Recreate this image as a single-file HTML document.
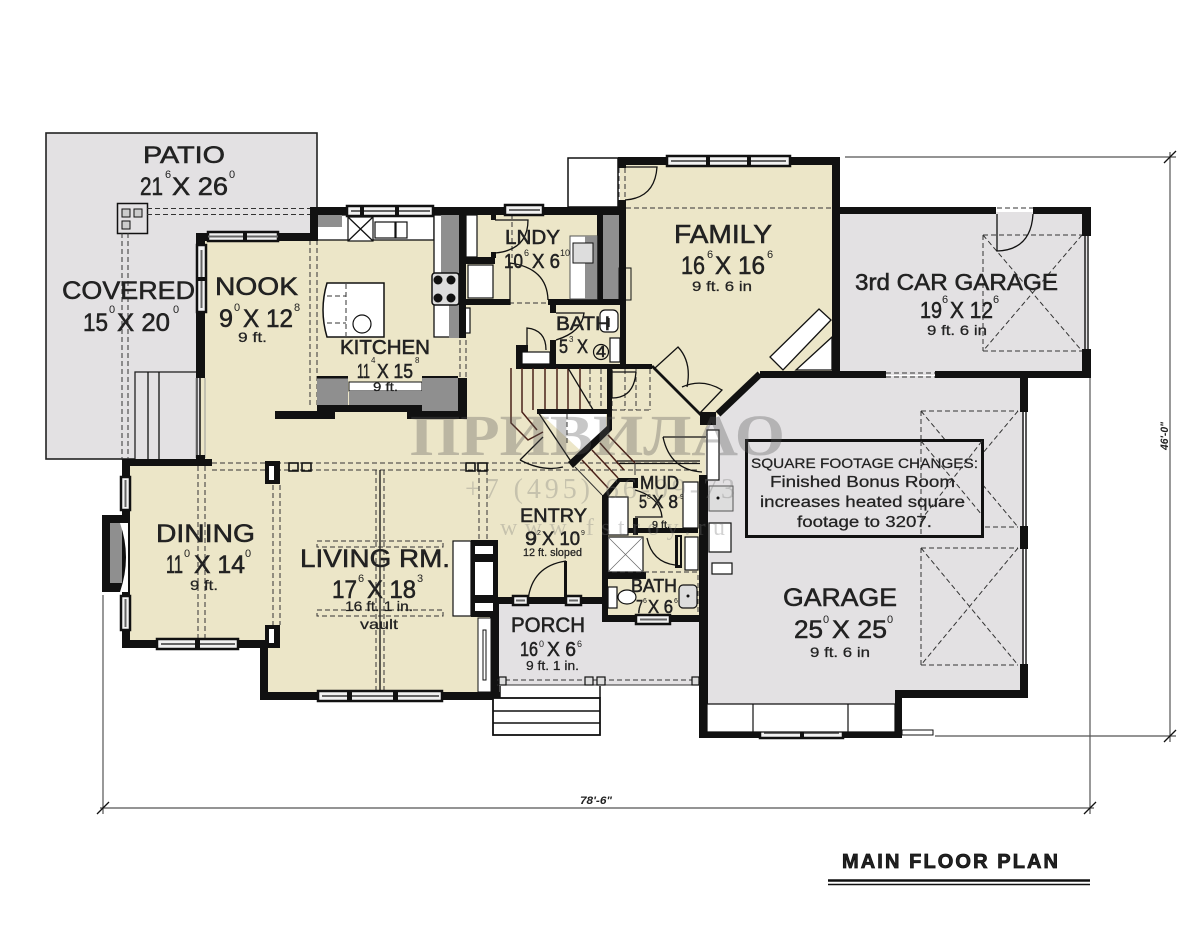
<!DOCTYPE html>
<html lang="en"><head><meta charset="utf-8"><title>Main Floor Plan</title>
<style>
html,body{margin:0;padding:0;background:#fff}
svg{display:block}
text{font-family:"Liberation Sans",sans-serif;fill:#222}
.m{stroke:#222;stroke-width:.55}
.s{stroke:#222;stroke-width:.25}
.d{fill:none;stroke:#333;stroke-width:1;stroke-dasharray:5 3}
.t{fill:none;stroke:#111;stroke-width:1.3}
.w{fill:#fff;stroke:#111;stroke-width:1.2}
.g{fill:#8f8f8f}
.win{fill:#f2f2f2;stroke:#111;stroke-width:2.5}
.r{stroke:#4a2018;stroke-width:1.5;fill:none}
.dim{stroke:#555;stroke-width:1.2;fill:none}
</style></head><body>
<svg xmlns="http://www.w3.org/2000/svg" width="1200" height="943" viewBox="0 0 1200 943">
<rect width="1200" height="943" fill="#fff"/>

<!-- dimensions -->
<path class="dim" d="M845 157H1176M1170 152V742M935 736H1176M1090 378V814M100 808H1094M103 595V814"/>
<path d="M1164 163l12-12M1164 742l12-12M97 814l12-12M1084 814l12-12" stroke="#111" stroke-width="1.3"/>
<text transform="translate(1168,450) rotate(-90)" font-size="11" font-weight="bold" font-style="italic" textLength="28" lengthAdjust="spacingAndGlyphs">46'-0"</text>
<text x="580" y="804" font-size="11" font-weight="bold" font-style="italic" textLength="32" lengthAdjust="spacingAndGlyphs">78'-6"</text>

<!-- patio -->
<rect x="46" y="133" width="271" height="326" fill="#e3e1e3" stroke="#222" stroke-width="1.6"/>
<rect x="135" y="372" width="62" height="88" fill="#e3e1e3" stroke="#222" stroke-width="1.3"/>
<path class="t" d="M148 372V460M159 372V460"/>
<rect x="117.500" y="203.500" width="30" height="30" fill="none" stroke="#111" stroke-width="1.5"/>
<rect x="122" y="209" width="8" height="8" fill="#ccc" stroke="#111"/><rect x="134" y="209" width="8" height="8" fill="#ccc" stroke="#111"/><rect x="122" y="221" width="8" height="8" fill="#ccc" stroke="#111"/>
<path class="d" d="M147 208.500H310M147 214.500H310M122 233V460M128 233V460"/>

<!-- floors -->
<path fill="#ece6c8" d="M200 238H436V212H620V162H836V372H760L708 425V620H605V601H497V695H265V645H126V463H200Z"/>
<path fill="#e3e1e3" d="M838 212H1087V375H838Z"/>
<path fill="#e3e1e3" d="M706 428L760 376H1024V694H899V734H703Z"/>
<path fill="#e3e1e3" d="M497 602H602V622H703V685H497Z"/>
<rect x="568" y="158" width="50" height="49" fill="#fff" stroke="#111" stroke-width="1.5"/>

<!-- dashes -->
<path class="d" d="M310 240V405M317 240V405M460 340V378M466 340V378M198 466V640M205 466V640M273 485V625M280 485V625M479 470V540M487 470V540M212 463H700M212 470H700M376 470V690M384 470V690M626 208H832M619 168V200M625 168V200M512 214V258M493 303H548"/>
<path class="t" d="M380 470V690M617 461H700M617 463.500H700"/>
<rect class="d" x="317" y="541" width="126" height="6"/><rect class="d" x="317" y="610" width="126" height="6"/>
<rect x="289" y="463" width="9" height="8" fill="none" stroke="#111" stroke-width="1.6"/><rect x="302" y="463" width="9" height="8" fill="none" stroke="#111" stroke-width="1.6"/>
<rect x="466" y="463" width="9" height="8" fill="none" stroke="#111" stroke-width="1.6"/><rect x="478" y="463" width="9" height="8" fill="none" stroke="#111" stroke-width="1.6"/>

<!-- kitchen -->
<rect x="317" y="215" width="117" height="25" fill="#fff" stroke="#111" stroke-width="1.3"/>
<rect x="317" y="215" width="25" height="12" class="g"/>
<rect x="434" y="215" width="25" height="122" fill="#fff" stroke="#111" stroke-width="1.3"/>
<rect x="441" y="215" width="18" height="58" class="g"/><rect x="449" y="305" width="10" height="33" class="g"/>
<rect class="w" x="348" y="217" width="25" height="24"/><path class="t" d="M348 217l25 24M373 217l-25 24" stroke-width=".7"/>
<rect class="w" x="375" y="222" width="20" height="16"/><rect class="w" x="396" y="222" width="11" height="16"/>
<rect x="432" y="273" width="27" height="32" rx="3" fill="#ddd" stroke="#111" stroke-width="1.5"/>
<circle cx="438" cy="280" r="4.500" fill="#111"/><circle cx="451" cy="280" r="4.500" fill="#111"/><circle cx="438" cy="298" r="4.500" fill="#111"/><circle cx="451" cy="298" r="4.500" fill="#111"/>
<rect class="w" x="463" y="308" width="7" height="25"/>
<path fill="#fff" stroke="#111" stroke-width="1.5" d="M327 283H384V337H327Q319 310 327 283Z"/>
<path class="d" d="M346 284V336M327 296H346M327 323H346"/><circle cx="362" cy="324" r="9" fill="#fff" stroke="#111" stroke-width="1.2"/>
<rect x="317" y="377" width="31" height="28" class="g"/><rect x="349" y="382" width="73" height="9" fill="#fff" stroke="#111"/><rect x="349" y="391" width="73" height="14" class="g"/><rect x="422" y="378" width="36" height="33" class="g"/>
<g fill="#111"><rect x="317" y="405" width="105" height="7"/><rect x="275" y="411" width="60" height="8"/><rect x="407" y="411" width="60" height="8"/><rect x="458" y="378" width="9" height="41"/><rect x="317" y="376" width="31" height="2.500"/><rect x="422" y="376" width="36" height="2"/></g>

<!-- laundry / bath -->
<rect class="w" x="466" y="215" width="11" height="42"/>
<rect class="w" x="468" y="265" width="25" height="33"/>
<path fill="#111" d="M466 257H495V264H466ZM459 214H466V338H459ZM466 299H510V305H466ZM548 299H626V305H548ZM597 214H603V300H597ZM618 158H626V168H618ZM618 200H626V300H618Z"/>
<rect x="570" y="236" width="27" height="63" fill="#fff" stroke="#555"/><rect x="585" y="236" width="12" height="63" class="g"/>
<rect x="573" y="243" width="20" height="20" fill="#ddd" stroke="#111"/>
<rect x="603" y="215" width="16" height="84" class="g"/><path d="M622 215V299" stroke="#111" stroke-dasharray="5 3" fill="none"/><rect x="619" y="268" width="12" height="32" fill="none" stroke="#111"/>
<path class="t" d="M495 220H528Q528 250 495 253M510 305V263Q547 268 548 300"/>
<rect x="491" y="214" width="5" height="6" fill="#111"/><rect x="491" y="252" width="5" height="6" fill="#111"/>
<rect x="600" y="310" width="18" height="22" rx="5" class="w"/><path class="t" d="M609 318V327"/>
<rect class="w" x="610" y="338" width="10" height="24"/>
<circle cx="601" cy="352" r="7.500" fill="none" stroke="#111" stroke-width="1.2"/>
<path fill="#111" d="M550 305H556V313H550ZM550 340H556V365H550ZM620 300H626V365H620ZM516 345H522V365H516ZM516 364H652V369H516ZM522 345H528V352H522Z"/>
<rect class="w" x="522" y="352" width="28" height="12"/>
<path class="t" d="M527 352V328Q546 330 546 350M556 313H584Q582 332 556 340"/>

<!-- stairs -->
<path class="r" d="M511 368V423L528 440L543 432M522 368V412L537 430M533 368V410M545 368V410M557 368V410M568 368V410M580 368V410"/>
<path class="t" d="M568 368L598 418" stroke-width=".9"/>
<path class="d" stroke-width=".8" d="M590 369V410M601 369V410M612 369V410M625 369V410M636 369V410M650 369V410M612 410H650"/>
<path fill="#fff" d="M541 414H606V428L582 452Z"/>
<path class="d" d="M567 414V445"/>
<path fill="#111" d="M537 409H612V414H537ZM607 369H612V430L573 468L568 462L607 426Z"/>
<path class="t" d="M538 412L572 463"/>
<path fill="none" stroke="#333" d="M608 435L635 463V475M575 467L602 495"/>
<path class="r" d="M582 460L608 488M592 450L618 478M600 443L624 470M608 435L635 463"/>
<path class="t" d="M520 460L543 437M520 460Q543 472 563 467M612 370V398Q634 398 636 372M612 372H636"/>

<!-- family door and diagonal -->
<path class="t" d="M625 167H657Q655 198 625 200"/>
<path d="M652 366L702 416" stroke="#111" stroke-width="2.800"/>
<path class="t" d="M655 368L678 347Q692 362 687 387M700 413L722 390Q702 378 682 387"/>
<path d="M718 414L760 374" stroke="#111" stroke-width="7" fill="none"/>
<rect x="700" y="412" width="16" height="13" fill="#111"/>
<path class="t" d="M663 437H706M663 437Q670 470 702 472"/>
<path fill="#fff" stroke="#111" stroke-width="1.3" d="M819 309L831 320L783 370L770 357Z"/>
<path fill="#fff" stroke="#111" stroke-width="1.3" d="M832 337V370H796Z"/>

<!-- walls -->
<g fill="#111">
<rect x="310" y="207" width="310" height="8"/>
<rect x="310" y="207" width="8" height="34"/>
<rect x="197" y="233" width="120" height="8"/>
<rect x="196" y="233" width="9" height="145"/>
<rect x="618" y="157" width="222" height="8"/>
<rect x="832" y="157" width="8" height="219"/>
<rect x="832" y="207" width="164" height="7"/><rect x="1033" y="207" width="58" height="7"/>
<rect x="1082" y="207" width="9" height="29"/><rect x="1082" y="349" width="9" height="29"/>
<rect x="760" y="371" width="126" height="7"/><rect x="935" y="371" width="156" height="7"/>
<rect x="1020" y="378" width="8" height="34"/><rect x="1020" y="526" width="8" height="23"/><rect x="1020" y="664" width="8" height="34"/>
<rect x="895" y="690" width="133" height="8"/><rect x="895" y="690" width="7" height="48"/>
<rect x="699" y="732" width="203" height="6"/><rect x="699" y="475" width="9" height="263"/>
<rect x="122" y="459" width="90" height="7"/><rect x="122" y="459" width="8" height="189"/>
<rect x="122" y="640" width="158" height="8"/>
<rect x="102" y="515" width="26" height="77"/>
<rect x="265" y="461" width="15" height="23"/><rect x="265" y="625" width="15" height="23"/>
<rect x="260" y="640" width="8" height="60"/><rect x="260" y="692" width="240" height="8"/>
<rect x="471" y="540" width="27" height="77"/><rect x="490" y="600" width="9" height="100"/>
<rect x="497" y="597" width="108" height="7"/>
<rect x="602" y="495" width="6" height="127"/><rect x="602" y="615" width="106" height="7"/>
<rect x="605" y="572" width="41" height="7"/>
<rect x="633" y="518" width="5" height="17"/><rect x="633" y="478" width="5" height="10"/>
<rect x="628" y="528" width="70" height="5"/>
</g>
<path fill="#111" d="M603 495L618 478H633V482H620L608 497Z"/>
<rect x="269" y="466" width="5" height="14" fill="#fff"/><rect x="269" y="629" width="5" height="14" fill="#fff"/>
<rect x="110" y="523" width="12" height="60" class="g"/><path fill="#fff" d="M120 523H128V592H120Q132 557 120 523Z"/>

<!-- fireplace -->
<rect class="w" x="453" y="541" width="18" height="75"/>
<rect x="475" y="546" width="18" height="8" fill="#fff"/><rect x="475" y="562" width="18" height="33" fill="#fff"/><rect x="475" y="603" width="18" height="8" fill="#fff"/>
<rect x="478" y="618" width="13" height="74" fill="#fff" stroke="#111"/>
<rect x="483" y="630" width="3" height="50" fill="none" stroke="#111"/>

<!-- windows -->
<g class="win">
<rect x="347" y="206" width="86" height="10"/><rect x="208" y="232" width="70" height="9"/><rect x="197" y="245" width="9" height="67"/>
<rect x="505" y="205" width="38" height="10"/><rect x="667" y="156" width="123" height="10"/>
<rect x="121" y="477" width="9" height="33"/><rect x="121" y="596" width="9" height="34"/>
<rect x="157" y="639" width="81" height="10"/><rect x="318" y="691" width="124" height="10"/>
<rect x="513" y="596" width="15" height="9"/><rect x="566" y="596" width="15" height="9"/>
<rect x="636" y="615" width="34" height="9"/><rect x="760" y="728" width="83" height="10"/>
</g>
<path stroke="#666" stroke-width="2" d="M208 236.500H278M351 211H430M201.500 250V308M509 210H540M671 161H786M161 644H235M322 696H439M640 619.500H667M764 733H839M125.500 480V507M125.500 599V627M516 600.500H525M569 600.500H578" fill="none"/>
<path fill="#111" d="M243 232h4v9h-4zM360 206h4v10h-4zM395 206h4v10h-4zM706 156h4v10h-4zM747 156h4v10h-4zM196 277h9v4h-9zM195 640h5v9h-5zM347 691h5v10h-5zM393 691h5v10h-5zM800 728h4v10h-4z"/>
<path stroke="#111" stroke-width="1.4" fill="none" d="M1085 236V349M1088 236V349M1023 412V526M1026 412V526M1023 549V664M1026 549V664"/>
<path stroke="#111" stroke-width="1.5" d="M200 378V455" fill="none"/><path stroke="#999" d="M196 378V458M205 378V458" fill="none"/>
<rect x="196" y="455" width="9" height="10" fill="#111"/>

<!-- entry door -->
<path class="t" stroke-width="1.5" d="M528 600Q532 566 566 561"/><rect x="564" y="561" width="3" height="36" fill="#111"/>

<!-- mud / bath -->
<rect class="w" x="608" y="497" width="20" height="38"/>
<rect class="w" x="608" y="537" width="35" height="35"/><path stroke="#666" stroke-width=".7" d="M608 537l35 35M643 537l-35 35"/>
<path class="t" d="M635 517H662Q660 497 635 490M647 538Q652 562 675 565"/>
<rect class="w" x="683" y="482" width="15" height="46"/><rect class="w" x="685" y="537" width="13" height="33"/><rect x="675" y="535" width="7" height="33" fill="#111"/><rect x="678" y="537" width="2" height="28" fill="#ece6c8"/>
<rect class="w" x="608" y="587" width="9" height="21"/><ellipse cx="627" cy="597" rx="9" ry="7" fill="#fff" stroke="#111" stroke-width="1.2"/>
<rect x="679" y="585" width="18" height="23" rx="4" fill="#ddd" stroke="#111" stroke-width="1.2"/><circle cx="688" cy="596" r="1.500" fill="#111"/>
<path class="d" d="M612 572H698M698 575V612"/>

<!-- porch + steps -->
<path stroke="#333" d="M497 685H700" fill="none"/><path class="d" d="M497 680H700"/>
<g fill="#ddd" stroke="#111" stroke-width="1.2"><rect x="499" y="677" width="7" height="8"/><rect x="585" y="677" width="8" height="8"/><rect x="597" y="677" width="8" height="8"/><rect x="692" y="677" width="7" height="8"/></g>
<rect x="493" y="698" width="107" height="37" fill="#fff" stroke="#111" stroke-width="1.8"/>
<path stroke="#111" stroke-width="1.5" d="M493 711H600M493 723H600M500 686V698M600 686V698" fill="none"/>

<!-- garage -->
<rect class="w" x="707" y="430" width="12" height="50"/>
<rect x="709" y="486" width="24" height="25" fill="#ddd" stroke="#555"/><circle cx="718" cy="498" r="1.500" fill="#111"/>
<rect class="w" x="709" y="523" width="22" height="29"/><rect class="w" x="712" y="563" width="20" height="11"/>
<path class="d" d="M921 411H1018M921 527H1018M921 411V527M921 548H1018M921 665H1018M921 548V665M983 235H1082M983 351H1082M983 235V351"/>
<path class="d" stroke-width=".8" d="M921 411L1018 527M1018 411L921 527M921 548L1018 665M1018 548L921 665M983 235L1082 351M1082 235L983 351"/>
<path fill="#fff" stroke="#111" stroke-width="1.2" d="M707 704H895V732H707ZM753 704V732M848 704V732"/>
<rect x="902" y="730" width="31" height="5" fill="#fff" stroke="#111"/>
<path class="t" stroke-width="1.5" d="M997 214V251Q1031 250 1033 214"/>
<path class="d" d="M997 208H1033M886 373H935M886 377H935"/>
<rect x="746.500" y="440.500" width="236" height="96" fill="#e3e1e3" stroke="#111" stroke-width="3"/>
<path class="d" stroke-width=".8" d="M921 441V537M921 441L982 515M982 441L921 520"/>

<!-- watermark -->
<g opacity=".32">
<text x="410" y="455" font-size="58" style="font-family:'Liberation Serif',serif;fill:#555;font-weight:bold" textLength="375" lengthAdjust="spacingAndGlyphs">ПРИВИЛАО</text>
<text x="465" y="498" font-size="28" style="font-family:'Liberation Serif',serif;fill:#777" textLength="270" lengthAdjust="spacing">+7 (495) 66-09-73</text>
<text x="500" y="535" font-size="24" style="font-family:'Liberation Serif',serif;fill:#777" textLength="225" lengthAdjust="spacing">www.fstroy.ru</text>
</g>

<!-- labels -->
<g class="m">
<text x="143" y="163" font-size="24" textLength="82" lengthAdjust="spacingAndGlyphs">PATIO</text>
<text x="140" y="195" font-size="25" textLength="23" lengthAdjust="spacingAndGlyphs">21</text><text x="172" y="195" font-size="25" textLength="56" lengthAdjust="spacingAndGlyphs">X 26</text>
<text x="62" y="299" font-size="25" textLength="133" lengthAdjust="spacingAndGlyphs">COVERED</text>
<text x="83" y="331" font-size="25" textLength="25" lengthAdjust="spacingAndGlyphs">15</text><text x="117" y="331" font-size="25" textLength="53" lengthAdjust="spacingAndGlyphs">X 20</text>
<text x="215" y="295" font-size="25" textLength="83" lengthAdjust="spacingAndGlyphs">NOOK</text>
<text x="219" y="327" font-size="25" textLength="14" lengthAdjust="spacingAndGlyphs">9</text><text x="243" y="327" font-size="25" textLength="50" lengthAdjust="spacingAndGlyphs">X 12</text>
<text x="340" y="354" font-size="20" textLength="90" lengthAdjust="spacingAndGlyphs">KITCHEN</text>
<text x="357" y="378" font-size="20" textLength="13" lengthAdjust="spacingAndGlyphs">11</text><text x="377" y="378" font-size="20" textLength="36" lengthAdjust="spacingAndGlyphs">X 15</text>
<text x="674" y="243" font-size="26" textLength="98" lengthAdjust="spacingAndGlyphs">FAMILY</text>
<text x="681" y="274" font-size="25" textLength="24" lengthAdjust="spacingAndGlyphs">16</text><text x="715" y="274" font-size="25" textLength="50" lengthAdjust="spacingAndGlyphs">X 16</text>
<text x="505" y="244" font-size="20" textLength="55" lengthAdjust="spacingAndGlyphs">LNDY</text>
<text x="504" y="268" font-size="20" textLength="19" lengthAdjust="spacingAndGlyphs">10</text><text x="532" y="268" font-size="20" textLength="28" lengthAdjust="spacingAndGlyphs">X 6</text>
<text x="556" y="330" font-size="19" textLength="54" lengthAdjust="spacingAndGlyphs">BATH</text>
<text x="559" y="353" font-size="19" textLength="9" lengthAdjust="spacingAndGlyphs">5</text><text x="577" y="353" font-size="19" textLength="11" lengthAdjust="spacingAndGlyphs">X</text><text x="596" y="357" font-size="16" textLength="10" lengthAdjust="spacingAndGlyphs">4</text>
<text x="855" y="290" font-size="23" textLength="203" lengthAdjust="spacingAndGlyphs">3rd CAR GARAGE</text>
<text x="920" y="318" font-size="23" textLength="22" lengthAdjust="spacingAndGlyphs">19</text><text x="950" y="318" font-size="23" textLength="43" lengthAdjust="spacingAndGlyphs">X 12</text>
<text x="783" y="606" font-size="25" textLength="114" lengthAdjust="spacingAndGlyphs">GARAGE</text>
<text x="794" y="638" font-size="25" textLength="29" lengthAdjust="spacingAndGlyphs">25</text><text x="832" y="638" font-size="25" textLength="55" lengthAdjust="spacingAndGlyphs">X 25</text>
<text x="156" y="542" font-size="25" textLength="99" lengthAdjust="spacingAndGlyphs">DINING</text>
<text x="166" y="573" font-size="25" textLength="17" lengthAdjust="spacingAndGlyphs">11</text><text x="194" y="573" font-size="25" textLength="51" lengthAdjust="spacingAndGlyphs">X 14</text>
<text x="300" y="567" font-size="25" textLength="150" lengthAdjust="spacingAndGlyphs">LIVING RM.</text>
<text x="332" y="598" font-size="25" textLength="25" lengthAdjust="spacingAndGlyphs">17</text><text x="367" y="598" font-size="25" textLength="49" lengthAdjust="spacingAndGlyphs">X 18</text>
<text x="520" y="522" font-size="19" textLength="67" lengthAdjust="spacingAndGlyphs">ENTRY</text>
<text x="525" y="545" font-size="19" textLength="12" lengthAdjust="spacingAndGlyphs">9</text><text x="542" y="545" font-size="19" textLength="38" lengthAdjust="spacingAndGlyphs">X 10</text>
<text x="511" y="632" font-size="21" textLength="74" lengthAdjust="spacingAndGlyphs">PORCH</text>
<text x="520" y="656" font-size="20" textLength="18" lengthAdjust="spacingAndGlyphs">16</text><text x="547" y="656" font-size="20" textLength="29" lengthAdjust="spacingAndGlyphs">X 6</text>
<text x="640" y="489" font-size="18" textLength="39" lengthAdjust="spacingAndGlyphs">MUD</text>
<text x="639" y="508" font-size="18" textLength="8" lengthAdjust="spacingAndGlyphs">5</text><text x="652" y="508" font-size="18" textLength="26" lengthAdjust="spacingAndGlyphs">X 8</text>
<text x="631" y="592" font-size="18" textLength="46" lengthAdjust="spacingAndGlyphs">BATH</text>
<text x="636" y="613" font-size="18" textLength="7" lengthAdjust="spacingAndGlyphs">7</text><text x="648" y="613" font-size="18" textLength="25" lengthAdjust="spacingAndGlyphs">X 6</text>
</g>
<!-- superscripts -->
<g font-size="11">
<text x="165" y="178">6</text><text x="229" y="178">0</text>
<text x="109" y="313">0</text><text x="173" y="313">0</text>
<text x="234" y="311">0</text><text x="294" y="311">8</text>
<text x="371" y="363" font-size="8">4</text><text x="415" y="363" font-size="8">8</text>
<text x="707" y="258">6</text><text x="767" y="258">6</text>
<text x="524" y="256" font-size="9">6</text><text x="560" y="256" font-size="9">10</text>
<text x="569" y="342" font-size="8">3</text>
<text x="942" y="303">6</text><text x="993" y="303">6</text>
<text x="823" y="623">0</text><text x="887" y="623">0</text>
<text x="184" y="557">0</text><text x="245" y="557">0</text>
<text x="358" y="582">6</text><text x="417" y="582">3</text>
<text x="537" y="535" font-size="7">2</text><text x="581" y="535" font-size="7">9</text>
<text x="539" y="647" font-size="9">0</text><text x="577" y="647" font-size="9">6</text>
<text x="647" y="499" font-size="7">8</text><text x="680" y="499" font-size="7">9</text>
<text x="643" y="603" font-size="7">6</text><text x="674" y="603" font-size="7">6</text>
</g>
<g class="s">
<text x="238" y="342" font-size="14" textLength="29" lengthAdjust="spacingAndGlyphs">9 ft.</text>
<text x="373" y="391" font-size="12" textLength="25" lengthAdjust="spacingAndGlyphs">9 ft.</text>
<text x="692" y="291" font-size="14" textLength="60" lengthAdjust="spacingAndGlyphs">9 ft. 6 in</text>
<text x="927" y="335" font-size="14" textLength="60" lengthAdjust="spacingAndGlyphs">9 ft. 6 in</text>
<text x="810" y="657" font-size="14" textLength="60" lengthAdjust="spacingAndGlyphs">9 ft. 6 in</text>
<text x="190" y="590" font-size="14" textLength="28" lengthAdjust="spacingAndGlyphs">9 ft.</text>
<text x="345" y="611" font-size="14" textLength="68" lengthAdjust="spacingAndGlyphs">16 ft. 1 in.</text>
<text x="360" y="629" font-size="14" textLength="38" lengthAdjust="spacingAndGlyphs">vault</text>
<text x="523" y="556" font-size="11" textLength="59" lengthAdjust="spacingAndGlyphs">12 ft. sloped</text>
<text x="526" y="670" font-size="13" textLength="53" lengthAdjust="spacingAndGlyphs">9 ft. 1 in.</text>
<text x="652" y="528" font-size="10" textLength="18" lengthAdjust="spacingAndGlyphs">9 ft.</text>
<text x="751" y="468" font-size="14" textLength="227" lengthAdjust="spacingAndGlyphs">SQUARE FOOTAGE CHANGES:</text>
<text x="770" y="487" font-size="15.500" textLength="185" lengthAdjust="spacingAndGlyphs">Finished Bonus Room</text>
<text x="760" y="507" font-size="15.500" textLength="205" lengthAdjust="spacingAndGlyphs">increases heated square</text>
<text x="797" y="527" font-size="15.500" textLength="135" lengthAdjust="spacingAndGlyphs">footage to 3207.</text>
</g>

<!-- title -->
<text x="842" y="868" font-size="20" font-weight="bold" stroke="#111" stroke-width=".8" textLength="216" lengthAdjust="spacing">MAIN FLOOR PLAN</text>
<path stroke="#111" d="M828 880.500H1090" stroke-width="2.500"/><path stroke="#111" d="M828 884.500H1090" stroke-width="1.500"/>
</svg>
</body></html>
